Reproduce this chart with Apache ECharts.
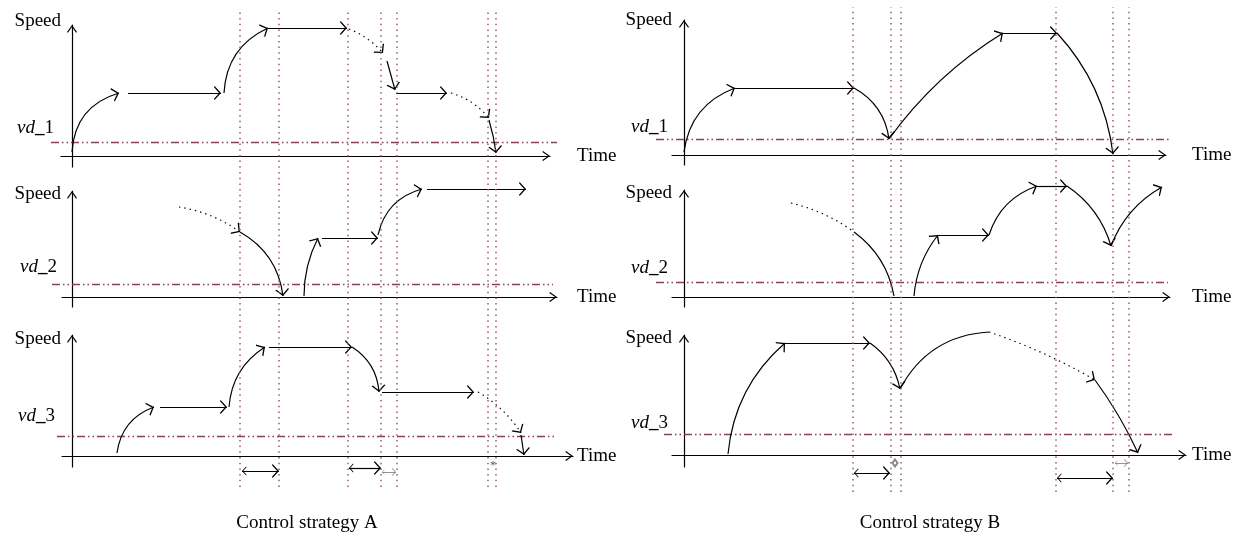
<!DOCTYPE html>
<html><head><meta charset="utf-8">
<script src="https://cdn.jsdelivr.net/npm/echarts@6/dist/echarts.min.js"></script>
<style>html,body{margin:0;padding:0;background:#fff}#c{width:1243px;height:550px}</style>
</head><body><div id="c"></div>
<script>
// ===== DATA (time = offset from speed axis, speed = height above time axis) =====
// each segment: [t_start, v_start, t_end, v_end]
const strategyA_vehicle1 = [
  [0,4, 47,63], [56,63, 149,63], [152,63, 196,128], [196,128, 275,128],
  [277,127, 311,103], [315,95, 323,66], [324,63, 375,63], [379,63, 417,38], [417,36, 424,3]
];
const strategyA_vehicle2 = [
  [107,90, 168,65], [168,65, 211,1], [232,1, 246,59], [250,59, 306,59],
  [306,62, 350,108], [355,108, 454,108]
];
const strategyA_vehicle3 = [
  [45,3, 82,49], [88,49, 155,49], [157,49, 193,109], [197,109, 280,109],
  [280,109, 307,64], [310,64, 402,64], [406,64, 449,23], [449,21, 452,1]
];
const strategyB_vehicle1 = [
  [0,3, 51,67], [51,67, 170,67], [170,67, 205,16], [205,16, 319,122],
  [319,122, 373,122], [373,122, 429,1]
];
const strategyB_vehicle2 = [
  [107,94, 170,65], [170,65, 210,1], [230,1, 254,62], [254,62, 305,62],
  [305,62, 353,111], [353,111, 383,111], [383,111, 427,51], [427,51, 478,110]
];
const strategyB_vehicle3 = [
  [44,1, 101,112], [101,112, 186,112], [186,112, 216,66], [216,66, 305,123],
  [305,123, 411,75], [411,75, 454,2]
];
const vdA = [14, 13, 20];
const vdB = [16, 15, 21];
const switchTimesA = [168, 207, 276, 309, 325, 416, 424];
const switchTimesB = [169, 207, 217, 372, 429, 445];
// intervals [t_start, t_end, level below time axis of vehicle 3]
const intervalsA = [[170, 207, -15], [277, 309, -12]];
const smallIntervalsA = [[310, 324, -16]];
const intervalsB = [[170, 206, -18], [373, 429, -23]];
const smallIntervalsB = [[431, 444, -8]];
const notesA = [[421, -10]];
const notesB = [[211, -8]];
const captions = ['Control strategy A', 'Control strategy B'];

// ===== STYLE (kind: s=solid d=dotted, > arrow head; bend = curvature) =====
const kindA = [
  ['s>','s>','s>','s>','d>','s>','s>','d>','s>'],
  ['d>','s>','s>','s>','s>','s>'],
  ['s>','s>','s>','s>','s>','s>','d>','s>']
];
const bendA = [
  [0.35,0,0.3,0,0.12,0,0,0.15,0.04],
  [0.12,0.25,0.12,0,0.3,0],
  [0.3,0,0.25,0,0.25,0,0.12,0]
];
const kindB = [
  ['s>','s>','s>','s>','s>','s>'],
  ['d','s','s>','s>','s>','s>','s>','s>'],
  ['s>','s>','s>','s','d>','s>']
];
const bendB = [
  [0.3,0,0.25,0.1,0,0.16],
  [0.1,0.2,0.15,0,0.25,0,0.18,0.18],
  [0.2,0,0.2,0.28,0.05,0.05]
];

// ===== LAYOUT =====
const layoutA = [
  {axisX:72, axisY:156, top:25, xStart:61, xEnd:550, yEnd:167, timeX:577, speedY:21, speedRight:61, vdRight:65, vdTextY:128, vdFrom:51, vdTo:557},
  {axisX:72, axisY:297, top:191, xStart:62, xEnd:557, yEnd:307, timeX:577, speedY:194, speedRight:61, vdRight:67, vdTextY:267, vdFrom:52, vdTo:553},
  {axisX:72, axisY:456, top:335, xStart:62, xEnd:573, yEnd:467, timeX:577, speedY:339, speedRight:61, vdRight:65, vdTextY:416, vdFrom:57, vdTo:557}
];
const layoutB = [
  {axisX:684, axisY:155, top:20, xStart:672, xEnd:1166, yEnd:165, timeX:1192, speedY:20, speedRight:672, vdRight:680, vdTextY:127, vdFrom:656, vdTo:1170},
  {axisX:684, axisY:297, top:190, xStart:672, xEnd:1170, yEnd:307, timeX:1192, speedY:193, speedRight:672, vdRight:680, vdTextY:268, vdFrom:656, vdTo:1168},
  {axisX:684, axisY:455, top:335, xStart:672, xEnd:1186, yEnd:467, timeX:1192, speedY:338, speedRight:672, vdRight:680, vdTextY:423, vdFrom:664, vdTo:1172}
];
const overlayA = {top:10, bottom:487};
const overlayB = {top:7, bottom:492};
const captionPos = [[307, 523], [930, 523]];

const CH = 'path://M5,0 L10,7 L9.1,7.7 L5,2 L0.9,7.7 L0,7 Z M5,-7.7';
const FONT = 'Liberation Serif';
const FS = 19;
const DOT = [1.4, 4];
const VDDASH = [8, 3, 1.5, 3, 1.5, 3];
const VDCOLOR = '#86424e';
const MARKCOLOR = '#9c5a6e';

const grids = [], xAxes = [], yAxes = [], series = [];

function axisLineCfg() {
  return {show:true, onZero:true, symbol:['none', CH], symbolSize:[10,16], lineStyle:{color:'#000', width:1.2}};
}

function addPanel(L, segs, bends, kinds, vd, k) {
  const gi = grids.length;
  grids.push({left:L.xStart, top:L.top, width:L.xEnd - L.xStart, height:L.yEnd - L.top, containLabel:false, outerBoundsMode:'none'});
  xAxes.push({
    gridIndex:gi, type:'value', min:L.xStart - L.axisX, max:L.xEnd - L.axisX,
    axisLine:axisLineCfg(), axisTick:{show:false}, axisLabel:{show:false}, splitLine:{show:false},
    name:'Time', nameLocation:'end', nameGap:L.timeX - L.xEnd, nameMoveOverlap:false,
    nameTextStyle:{fontFamily:FONT, fontSize:FS, color:'#000', align:'left', verticalAlign:'middle'}
  });
  const d = (L.axisY - vd) - L.vdTextY;
  const rs = {fontFamily:FONT, fontSize:FS, color:'#000'};
  yAxes.push({
    gridIndex:gi, type:'value', min:L.axisY - L.yEnd, max:L.axisY - L.top,
    axisLine:axisLineCfg(), axisTick:{show:false}, splitLine:{show:false},
    axisLabel:{show:true, customValues:[vd], formatter:function(){ return '{i|vd}{u|_}{n|' + k + '}'; },
      margin:L.axisX - L.vdRight, verticalAlign:'middle', padding:[0,0,2*d,0],
      rich:{i:Object.assign({fontStyle:'italic'}, rs), u:Object.assign({fontWeight:'bold'}, rs), n:rs}},
    name:'Speed', nameLocation:'end', nameGap:L.top - L.speedY, nameMoveOverlap:false,
    nameTextStyle:{fontFamily:FONT, fontSize:FS, color:'#000', align:'right', verticalAlign:'middle', padding:[0, L.axisX - L.speedRight, 0, 0]}
  });
  series.push({
    type:'lines', coordinateSystem:'cartesian2d', xAxisIndex:gi, yAxisIndex:gi, clip:false, silent:true, z:2,
    symbol:['none','none'],
    lineStyle:{color:VDCOLOR, width:1.3, type:VDDASH, opacity:1},
    data:[{coords:[[L.vdFrom - L.axisX, vd], [L.vdTo - L.axisX, vd]]}]
  });
  series.push({
    type:'lines', coordinateSystem:'cartesian2d', xAxisIndex:gi, yAxisIndex:gi, clip:false, silent:true, z:4,
    symbol:['none', CH], symbolSize:[9,14],
    lineStyle:{color:'#000', width:1.2, opacity:1},
    data:segs.map(function(s, i){
      const kd = kinds[i];
      return {
        coords:[[s[0], s[1]], [s[2], s[3]]],
        symbol:['none', kd.indexOf('>') >= 0 ? CH : 'none'],
        symbolSize:[9,14],
        lineStyle:{curveness:bends[i], type: kd[0] === 'd' ? DOT : 'solid', color:'#000', width:1.2, opacity:1}
      };
    })
  });
}

function addOverlay(L3, ov, marks, arrows, small, notes, noteKind) {
  const gi = grids.length;
  const W = 520;
  grids.push({left:L3.xStart, top:ov.top, width:W, height:ov.bottom - ov.top, containLabel:false, outerBoundsMode:'none'});
  xAxes.push({gridIndex:gi, type:'value', show:false, min:L3.xStart - L3.axisX, max:L3.xStart - L3.axisX + W});
  yAxes.push({gridIndex:gi, type:'value', show:false, min:L3.axisY - ov.bottom, max:L3.axisY - ov.top});
  const noteSeries = {
    type:'scatter', xAxisIndex:gi, yAxisIndex:gi, silent:true, clip:false, z:1,
    data:notes,
    markLine:{silent:true, symbol:['none','none'], label:{show:false}, animation:false,
      lineStyle:{color:MARKCOLOR, width:1.5, type:[1.5,4.2], opacity:1},
      emphasis:{disabled:true},
      data:marks.map(function(t){ return {xAxis:t}; })}
  };
  if (noteKind === 'star') {
    Object.assign(noteSeries, {symbol:'circle', symbolSize:0.1, itemStyle:{color:'#fff'},
      label:{show:true, formatter:'*', position:'inside', fontSize:12, color:'#333', fontFamily:FONT}});
  } else {
    Object.assign(noteSeries, {symbol:'emptyDiamond', symbolSize:[5,7], itemStyle:{color:'#666', borderWidth:1}});
  }
  series.push(noteSeries);
  series.push({
    type:'lines', coordinateSystem:'cartesian2d', xAxisIndex:gi, yAxisIndex:gi, clip:false, silent:true, z:4,
    symbol:[CH, CH], symbolSize:[9,14],
    lineStyle:{color:'#000', width:1.2, opacity:1},
    data:arrows.map(function(a){ return {coords:[[a[0], a[2]], [a[1], a[2]]]}; })
  });
  series.push({
    type:'lines', coordinateSystem:'cartesian2d', xAxisIndex:gi, yAxisIndex:gi, clip:false, silent:true, z:4,
    symbol:[CH, CH], symbolSize:[5,8],
    lineStyle:{color:'#888', width:0.9, opacity:1},
    data:small.map(function(a){ return {coords:[[a[0], a[2]], [a[1], a[2]]]}; })
  });
}

const A = [strategyA_vehicle1, strategyA_vehicle2, strategyA_vehicle3];
const B = [strategyB_vehicle1, strategyB_vehicle2, strategyB_vehicle3];
for (let i = 0; i < 3; i++) addPanel(layoutA[i], A[i], bendA[i], kindA[i], vdA[i], i + 1);
for (let i = 0; i < 3; i++) addPanel(layoutB[i], B[i], bendB[i], kindB[i], vdB[i], i + 1);
addOverlay(layoutA[2], overlayA, switchTimesA, intervalsA, smallIntervalsA, notesA, 'star');
addOverlay(layoutB[2], overlayB, switchTimesB, intervalsB, smallIntervalsB, notesB, 'diamond');

const chart = echarts.init(document.getElementById('c'), null, {renderer:'canvas'});
chart.setOption({
  backgroundColor:'#fff',
  animation:false,
  textStyle:{fontFamily:FONT},
  grid:grids, xAxis:xAxes, yAxis:yAxes, series:series,
  graphic:captions.map(function(c, i){
    return {type:'text', x:captionPos[i][0], y:captionPos[i][1],
      style:{text:c, fontFamily:FONT, fontSize:FS, fill:'#000', align:'center', verticalAlign:'middle'}};
  })
});
</script></body></html>
